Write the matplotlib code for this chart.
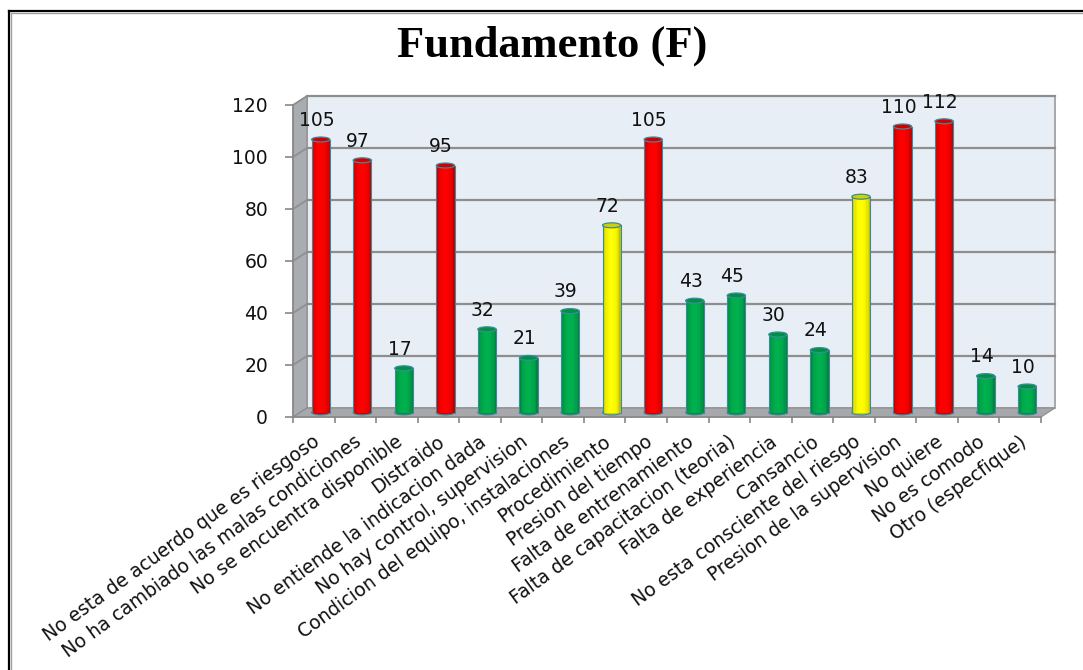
import numpy as np
import matplotlib
matplotlib.use("Agg")
import matplotlib.pyplot as plt
from matplotlib.patches import Rectangle, Polygon, Ellipse
from matplotlib.lines import Line2D

categorias = [
    "No esta de acuerdo que es riesgoso",
    "No ha cambiado las malas condiciones",
    "No se encuentra disponible",
    "Distraido",
    "No entiende la indicacion dada",
    "No hay control, supervision",
    "Condicion del equipo, instalaciones",
    "Procedimiento",
    "Presion del tiempo",
    "Falta de entrenamiento",
    "Falta de capacitacion (teoria)",
    "Falta de experiencia",
    "Cansancio",
    "No esta consciente del riesgo",
    "Presion de la supervision",
    "No quiere",
    "No es comodo",
    "Otro (especfique)",
]
valores = [105, 97, 17, 95, 32, 21, 39, 72, 105, 43, 45, 30, 24, 83, 110, 112, 14, 10]
niveles = ["r", "r", "g", "r", "g", "g", "g", "y", "r", "g", "g", "g", "g", "y", "r", "r", "g", "g"]
y_ticks = [0, 20, 40, 60, 80, 100, 120]

base = {"r": np.array([1.0, 0.0, 0.0]),
        "g": np.array([0.0, 0.69, 0.31]),
        "y": np.array([1.0, 1.0, 0.0])}

fig = plt.figure(figsize=(10.83, 6.70), dpi=100)
ax = fig.add_axes([293 / 1083, (670 - 417) / 670, 748 / 1083, 312 / 670])
ax.set_xlim(0, len(categorias))
ax.set_ylim(0, 120)
ax.patch.set_visible(False)

n = len(categorias)
# profundidad 3D en unidades de datos (14 px a la derecha, 9 px arriba)
DX = 14 * n / 748
DY = 9 * 120 / 312

# pared del fondo
ax.add_patch(Rectangle((DX, DY), n, 120, facecolor="#e7eef5", edgecolor="#9a9a9a",
                       lw=1.2, zorder=0, clip_on=False))
# pared lateral
ax.add_patch(Polygon([(0, 0), (0, 120), (DX, 120 + DY), (DX, DY)], closed=True,
                     facecolor="#a9acb0", edgecolor="#8c8c8c", lw=0.8, zorder=0.5, clip_on=False))
# piso
ax.add_patch(Polygon([(0, 0), (n, 0), (n + DX, DY), (DX, DY)], closed=True,
                     facecolor="#a6a8ab", edgecolor="#8c8c8c", lw=0.8, zorder=0.6, clip_on=False))

for yv in y_ticks[1:]:
    ax.add_line(Line2D([DX, n + DX], [yv + DY, yv + DY], color="#8e8e8e", lw=1.6,
                       zorder=1, clip_on=False))
    ax.add_line(Line2D([0, DX], [yv, yv + DY], color="#8e8e8e", lw=1.2,
                       zorder=1, clip_on=False))

# barras cilindricas
w = 0.44
ns = 14
t = (np.arange(ns) + 0.5) / ns
shade = 0.62 + 0.38 * np.sin(np.pi * t) ** 0.45
eh = 1.9
for i, (v, c) in enumerate(zip(valores, niveles)):
    xc = i + 0.5 + DX / 2
    y0 = DY / 2
    col = base[c]
    xs = xc - w / 2 + (np.arange(ns) + 0.5) * w / ns
    for xx, s in zip(xs, shade):
        ax.bar(xx, v, width=w / ns * 1.02, bottom=y0, color=np.clip(col * s, 0, 1),
               lw=0, zorder=3, clip_on=False)
    ax.add_patch(Ellipse((xc, y0), w, eh, facecolor=np.clip(col * 0.8, 0, 1),
                         edgecolor="#3d8a9c", lw=0.8, zorder=2.9, clip_on=False))
    ax.add_line(Line2D([xc - w / 2, xc - w / 2], [y0, y0 + v], color="#3d8a9c", lw=0.8, zorder=3.1))
    ax.add_line(Line2D([xc + w / 2, xc + w / 2], [y0, y0 + v], color="#3d8a9c", lw=0.8, zorder=3.1))
    ax.add_patch(Ellipse((xc, y0 + v), w, eh, facecolor=np.clip(col * 0.82, 0, 1),
                         edgecolor="#3d8a9c", lw=0.9, zorder=3.2, clip_on=False))
    ax.annotate(str(v), (i + 0.5 + DX * 0.2, y0 + v), xytext=(0, 7), textcoords="offset points",
                ha="center", va="bottom", fontsize=13.5, color="#111111",
                family="DejaVu Sans", zorder=5, annotation_clip=False)

# ejes
for s in ["top", "right"]:
    ax.spines[s].set_visible(False)
ax.spines["left"].set_color("#888888")
ax.spines["bottom"].set_color("#888888")
ax.spines["left"].set_linewidth(1.2)
ax.spines["bottom"].set_linewidth(1.2)
ax.set_yticks(y_ticks)
ax.set_yticklabels([str(y) for y in y_ticks], fontsize=13.5, color="#111111")
ax.tick_params(axis="y", length=6, width=1.2, color="#888888", pad=12)
ax.set_xticks(np.arange(n + 1))
ax.set_xticklabels([])
ax.tick_params(axis="x", length=4.5, width=1.2, color="#888888")

for i, lab in enumerate(categorias):
    ax.annotate(lab, (i + 0.5, 0), xytext=(-1, -11), textcoords="offset points",
                ha="right", va="top", rotation=36, rotation_mode="anchor",
                fontsize=13.5, color="#111111", family="DejaVu Sans", annotation_clip=False)

fig.text(0.510, 1 - 46 / 670, "Fundamento (F)", ha="center", va="center",
         family="Liberation Serif", fontweight="bold", fontsize=32)

# marco
fig.add_artist(Line2D([9 / 1083, 1], [1 - 11 / 670, 1 - 11 / 670], color="black", lw=1.6))
fig.add_artist(Line2D([9 / 1083, 9 / 1083], [0, 1 - 11 / 670], color="black", lw=1.6))
fig.add_artist(Line2D([11 / 1083, 1], [1 - 13 / 670, 1 - 13 / 670], color="#a0a0a0", lw=1.0))
fig.add_artist(Line2D([11 / 1083, 11 / 1083], [0, 1 - 13 / 670], color="#a0a0a0", lw=1.0))

fig.savefig("out.png", dpi=100)
